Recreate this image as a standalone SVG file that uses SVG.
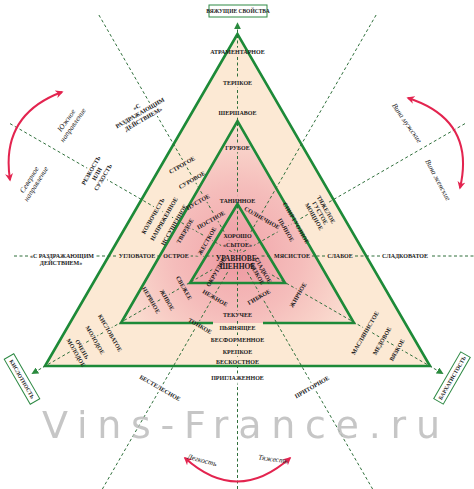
<svg xmlns="http://www.w3.org/2000/svg" xmlns:xlink="http://www.w3.org/1999/xlink" width="474" height="489" viewBox="0 0 474 489">
<style>
.lb{font-family:"Liberation Serif","DejaVu Serif",serif;font-weight:bold;font-size:6px;fill:#1a1a1a;text-anchor:middle}
.big{font-size:7.5px}
.it{font-family:"Liberation Serif","DejaVu Serif",serif;font-style:italic;font-size:7.5px;fill:#222;text-anchor:middle}
.tri{fill:none;stroke:#1d8a38;stroke-width:2.6;stroke-linejoin:miter}
.dash{fill:none;stroke:#2f6f3b;stroke-width:1;stroke-dasharray:3 2.5}
.red{fill:none;stroke:#e3244f;stroke-width:2}
.box{fill:#fff;stroke:#2f8a45;stroke-width:1}
.wm{font-family:"DejaVu Sans","Liberation Sans",sans-serif;font-size:38px;fill:#bdbdbd;opacity:0.85}
</style>
<defs>
<marker id="ga" viewBox="0 0 10 10" refX="9" refY="5" markerWidth="7" markerHeight="7" orient="auto" markerUnits="userSpaceOnUse"><path d="M0,0 L10,5 L0,10 z" fill="#2a8a3e"/></marker>
<marker id="ra" viewBox="0 0 10 10" refX="8" refY="5" markerWidth="8" markerHeight="8" orient="auto-start-reverse" markerUnits="userSpaceOnUse"><path d="M0,0 L10,5 L0,10 L3,5 z" fill="#e3244f"/></marker>
<radialGradient id="gm" gradientUnits="userSpaceOnUse" cx="237.5" cy="252" r="130">
<stop offset="0" stop-color="#f1a5aa"/><stop offset="0.5" stop-color="#f5bdbb"/><stop offset="1" stop-color="#fbe0d2"/>
</radialGradient>
<radialGradient id="gi" gradientUnits="userSpaceOnUse" cx="237.5" cy="258" r="60">
<stop offset="0" stop-color="#ed9aa1"/><stop offset="1" stop-color="#f3b2b4"/>
</radialGradient>
<mask id="m" maskUnits="userSpaceOnUse" x="0" y="0" width="474" height="489">
<rect width="474" height="489" fill="#fff"/>
<use href="#labels" style="stroke:#000;stroke-width:4.5"/>
</mask>
</defs>

<g id="triangles">
<polygon points="237.5,34 45,366 430,366" fill="#fce9d4"/>
<polygon points="237.5,121 121,323 354,323" fill="url(#gm)"/>
<polygon points="237.5,204 190,283 285,283" fill="url(#gi)"/>
<polygon class="tri" points="237.5,34 45,366 430,366"/>
<path class="tri" d="M213,323 L121,323 L237.5,121 L354,323 L263,323"/>
<polygon class="tri" points="237.5,204 190,283 285,283"/>
</g>

<g id="connectors" mask="url(#m)">
<path class="dash" d="M237.5,489 V23" marker-end="url(#ga)"/>
<path class="dash" d="M14,256 H474"/>
<path class="dash" d="M10,123.6 L443,373.7" marker-end="url(#ga)"/>
<path class="dash" d="M465,123.6 L32,373.7" marker-end="url(#ga)"/>
<path class="dash" d="M98.9,15 L372.6,489"/>
<path class="dash" d="M376.1,15 L102.4,489"/>
</g>

<g id="arcs">
<path class="red" d="M62,92 Q0,115 10,180" marker-start="url(#ra)" marker-end="url(#ra)"/>
<path class="red" d="M408,98 Q476,120 460,188" marker-start="url(#ra)" marker-end="url(#ra)"/>
<path class="red" d="M185,458 Q237,505 290,458" marker-start="url(#ra)" marker-end="url(#ra)"/>
</g>

<g id="box-top"><rect class="box" x="209" y="5" width="58" height="12"/><text class="lb" x="238" y="13" style="font-size:5.5px">ВЯЖУЩИЕ СВОЙСТВА</text></g>
<g id="box-left" transform="translate(22,379) rotate(60)"><rect class="box" x="-26" y="-5.5" width="52" height="11"/><text class="lb" x="0" y="2" style="font-size:5.5px">КИСЛОТНОСТЬ</text></g>
<g id="box-right" transform="translate(452,378) rotate(-60)"><rect class="box" x="-27" y="-5.5" width="54" height="11"/><text class="lb" x="0" y="2" style="font-size:5.5px">БАРХАТИСТОСТЬ</text></g>

<g id="labels">
<g id="axis-vertical" class="lb">
<text x="237.5" y="54">АТРАМЕНТАРНОЕ</text>
<text x="237.5" y="85">ТЕРПКОЕ</text>
<text x="237.5" y="115">ШЕРШАВОЕ</text>
<text x="237.5" y="150">ГРУБОЕ</text>
<text x="237.5" y="203">ТАНИННОЕ</text>
<text x="237.5" y="238">ХОРОШО</text>
<text x="237.5" y="247">«СЫТОЕ»</text>
<text class="lb big" x="237.5" y="260.5">УРАВНОВЕ-</text>
<text class="lb big" x="237.5" y="269">ШЕННОЕ</text>
<text x="237.5" y="317">ТЕКУЧЕЕ</text>
<text x="237.5" y="330">ПЬЯНЯЩЕЕ</text>
<text x="237.5" y="342">БЕСФОРМЕННОЕ</text>
<text x="237.5" y="353.5">КРЕПКОЕ</text>
<text x="237.5" y="364">БЕСКОСТНОЕ</text>
<text x="237.5" y="380">ПРИГЛАЖЕННОЕ</text>
</g>
<g id="axis-horizontal" class="lb">
<text x="62" y="258">«С РАЗДРАЖАЮЩИМ</text>
<text x="61" y="265">ДЕЙСТВИЕМ»</text>
<text x="137" y="258">УГЛОВАТОЕ</text>
<text x="176" y="258">ОСТРОЕ</text>
<text x="292" y="258">МЯСИСТОЕ</text>
<text x="340" y="258">СЛАБОЕ</text>
<text x="405" y="258">СЛАДКОВАТОЕ</text>
</g>
<g id="axis-a" class="lb">
<text transform="translate(97,174) rotate(-60)"><tspan x="0" y="-5">РЕЗКОСТЬ</tspan><tspan x="0" y="2">ИЛИ</tspan><tspan x="0" y="9">СУХОСТЬ</tspan></text>
<text transform="translate(153,216) rotate(-60)" y="2">КОЛЮЧЕСТЬ</text>
<text transform="translate(164,219) rotate(-60)" y="2">НАПРЯЖЕННОЕ</text>
<text transform="translate(174,225) rotate(-60)" y="2">ИССУШЕННОЕ</text>
<text transform="translate(185,231) rotate(-60)" y="2">ТВЕРДОЕ</text>
<text transform="translate(207,241) rotate(-60)" y="2">ЖЕСТКОЕ</text>
<text transform="translate(298,295) rotate(-60)" y="2">ЖИРНОЕ</text>
<text transform="translate(365,333) rotate(-60)" y="2">МАСЛЯНИСТОЕ</text>
<text transform="translate(382,341) rotate(-60)" y="2">МЕДОВОЕ</text>
<text transform="translate(397,350) rotate(-60)" y="2">ВЯЗКОЕ</text>
</g>
<g id="axis-b" class="lb">
<text transform="translate(184,288) rotate(60)" y="2">СВЕЖЕЕ</text>
<text transform="translate(167,300) rotate(60)" y="2">ЖИВОЕ</text>
<text transform="translate(151,300) rotate(60)" y="2">НЕРВНОЕ</text>
<text transform="translate(110,333) rotate(60)" y="2">КИСЛОВАТОЕ</text>
<text transform="translate(95,340) rotate(60)" y="2">МОЛОДОЕ</text>
<text transform="translate(79,351) rotate(60)"><tspan x="0" y="-1.5">ОЧЕНЬ</tspan><tspan x="0" y="5.5">МОЛОДОЕ</tspan></text>
<text transform="translate(320,213) rotate(60)"><tspan x="0" y="-5">ТЯЖЕЛОЕ</tspan><tspan x="0" y="2">ГУСТОЕ</tspan><tspan x="0" y="9">МОЩНОЕ</tspan></text>
<text transform="translate(296,223) rotate(60)" y="2">СПИРТУОЗНОЕ</text>
<text transform="translate(286,230) rotate(60)" y="2">ПЬЯНОЕ</text>
</g>
<g id="axis-c" class="lb">
<text transform="translate(140,113) rotate(-30)"><tspan x="0" y="-5">«С</tspan><tspan x="0" y="2">РАЗДРАЖАЮЩИМ</tspan><tspan x="0" y="9">ДЕЙСТВИЕМ»</tspan></text>
<text transform="translate(182,165) rotate(-30)" y="2">СТРОГОЕ</text>
<text transform="translate(192,180) rotate(-30)" y="2">СУРОВОЕ</text>
<text transform="translate(198,202) rotate(-30)" y="2">ПУСТОЕ</text>
<text transform="translate(211,220) rotate(-30)" y="2">ПОСТНОЕ</text>
<text transform="translate(259,297) rotate(-30)" y="2">ГИБКОЕ</text>
<text transform="translate(312,387) rotate(-30)" y="2">ПРИТОРНОЕ</text>
</g>
<g id="axis-d" class="lb">
<text transform="translate(215,298) rotate(30)" y="2">НЕЖНОЕ</text>
<text transform="translate(200,326) rotate(30)" y="2">ТОНКОЕ</text>
<text transform="translate(160,388) rotate(30)" y="2">БЕСТЕЛЕСНОЕ</text>
<text transform="translate(262,218) rotate(30)" y="2">СОЛНЕЧНОЕ</text>
</g>
<g id="inner-labels" class="lb">
<text transform="translate(216,272) rotate(-60)" y="2">ОКРУГЛОЕ</text>
<text transform="translate(260,272) rotate(60)"><tspan x="0" y="-1.5">ГЛАДКОЕ</tspan><tspan x="0" y="5.5">ВЯЗКОЕ</tspan></text>
</g>
<g id="direction-labels" class="it">
<text transform="translate(70,123) rotate(-55)"><tspan x="0" y="-2">Южное</tspan><tspan x="0" y="6">направление</tspan></text>
<text transform="translate(33,182) rotate(-58)"><tspan x="0" y="-2">Северное</tspan><tspan x="0" y="6">направление</tspan></text>
<text transform="translate(407,123) rotate(55)" y="2.5">Вина мужские</text>
<text transform="translate(438,180) rotate(62)" y="2.5">Вина женские</text>
<text transform="translate(202,460) rotate(15)" y="2.5">Легкость</text>
<text transform="translate(273,459) rotate(8)" y="2.5">Тяжесть</text>
</g>
</g>

<text class="wm" x="42" y="438" textLength="398" lengthAdjust="spacing">Vins-France.ru</text>
</svg>
